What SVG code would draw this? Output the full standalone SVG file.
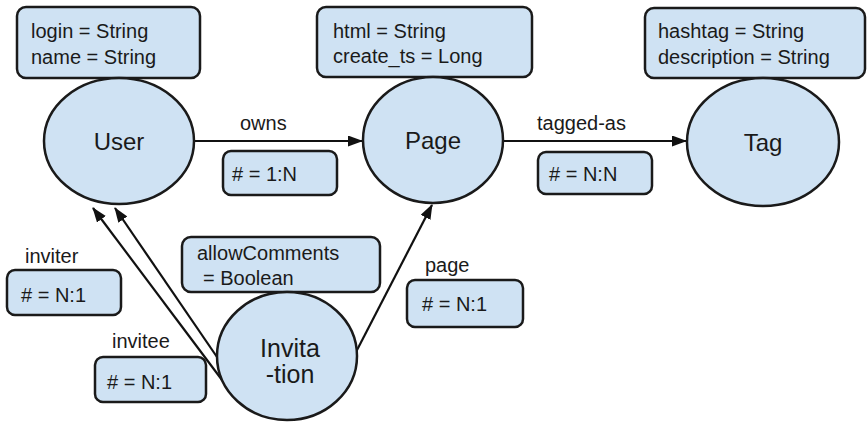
<svg xmlns="http://www.w3.org/2000/svg" width="867" height="422" viewBox="0 0 867 422">
<style>
  .bg { fill: #ffffff; }
  .node { fill: #cfe2f3; stroke: #1a1a1a; stroke-width: 2.5; }
  .box { fill: #cfe2f3; stroke: #1a1a1a; stroke-width: 2.5; }
  .t { font-family: "Liberation Sans", Arial, sans-serif; font-size: 20px; fill: #1a1a1a; }
  .nl { font-family: "Liberation Sans", Arial, sans-serif; font-size: 24px; fill: #1a1a1a; text-anchor: middle; }
  .edge { fill: none; stroke: #111; stroke-width: 2.2; }
</style>
<defs>
  <marker id="arr" markerUnits="userSpaceOnUse" markerWidth="15" markerHeight="11" refX="14" refY="5.5" orient="auto">
    <path d="M0,0 L15,5.5 L0,11 z" fill="#111"/>
  </marker>
</defs>
<rect class="bg" x="0" y="0" width="867" height="422"/>

<g id="connectors">
  <g id="e-owns">
    <line class="edge" x1="194" y1="141" x2="362" y2="141" marker-end="url(#arr)"/>
    <text class="t" x="240" y="130">owns</text>
    <rect class="box" x="223" y="151" width="114" height="44" rx="8"/>
    <text class="t" x="232" y="181"># = 1:N</text>
  </g>
  <g id="e-tagged">
    <line class="edge" x1="503" y1="141" x2="686" y2="141" marker-end="url(#arr)"/>
    <text class="t" x="537" y="130">tagged-as</text>
    <rect class="box" x="538" y="152" width="114" height="42" rx="8"/>
    <text class="t" x="549" y="181"># = N:N</text>
  </g>
  <g id="e-inviter">
    <line class="edge" x1="222" y1="380" x2="93" y2="208" marker-end="url(#arr)"/>
    <text class="t" x="25" y="263">inviter</text>
    <rect class="box" x="7" y="270" width="114" height="45" rx="8"/>
    <text class="t" x="21" y="302"># = N:1</text>
  </g>
  <g id="e-invitee">
    <line class="edge" x1="217" y1="357" x2="115" y2="208" marker-end="url(#arr)"/>
    <text class="t" x="112" y="348">invitee</text>
    <rect class="box" x="95" y="357" width="111" height="45" rx="8"/>
    <text class="t" x="107" y="389"># = N:1</text>
  </g>
  <g id="e-page">
    <line class="edge" x1="356" y1="352" x2="432" y2="205" marker-end="url(#arr)"/>
    <text class="t" x="425" y="272">page</text>
    <rect class="box" x="407" y="280" width="116" height="47" rx="8"/>
    <text class="t" x="422" y="311"># = N:1</text>
  </g>
</g>

<g id="user">
  <rect class="box" x="17" y="7" width="183" height="71" rx="9"/>
  <text class="t" x="31" y="38">login = String</text>
  <text class="t" x="31" y="64">name = String</text>
  <ellipse class="node" cx="119" cy="141" rx="75" ry="63"/>
  <text class="nl" x="119" y="150">User</text>
</g>

<g id="page">
  <rect class="box" x="317" y="7" width="215" height="70" rx="9"/>
  <text class="t" x="333" y="38">html = String</text>
  <text class="t" x="333" y="63">create_ts = Long</text>
  <ellipse class="node" cx="433" cy="140" rx="70" ry="63"/>
  <text class="nl" x="433" y="149">Page</text>
</g>

<g id="tag">
  <rect class="box" x="645" y="8" width="220" height="70" rx="9"/>
  <text class="t" x="658" y="38">hashtag = String</text>
  <text class="t" x="658" y="64">description = String</text>
  <ellipse class="node" cx="763" cy="142" rx="76" ry="64"/>
  <text class="nl" x="763" y="151">Tag</text>
</g>

<g id="invitation">
  <rect class="box" x="182" y="237" width="198" height="55" rx="9"/>
  <text class="t" x="197" y="260">allowComments</text>
  <text class="t" x="203" y="285">= Boolean</text>
  <ellipse class="node" cx="287" cy="356" rx="70" ry="64"/>
  <text class="nl" x="290" y="357" style="font-size:25px">Invita</text>
  <text class="nl" x="290" y="383" style="font-size:25px">-tion</text>
</g>
</svg>
